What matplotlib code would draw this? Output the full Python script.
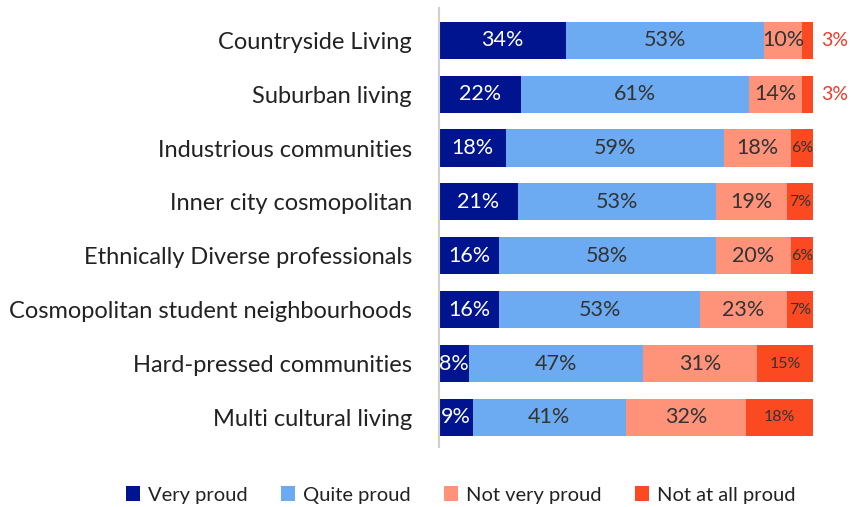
import matplotlib
matplotlib.use("Agg")
import matplotlib.pyplot as plt
from matplotlib.patches import Patch

categories = ["Countryside Living", "Suburban living", "Industrious communities",
              "Inner city cosmopolitan", "Ethnically Diverse professionals",
              "Cosmopolitan student neighbourhoods", "Hard-pressed communities",
              "Multi cultural living"]
very_proud = [34, 22, 18, 21, 16, 16, 8, 9]
quite_proud = [53, 61, 59, 53, 58, 53, 47, 41]
not_very_proud = [10, 14, 18, 19, 20, 23, 31, 32]
not_at_all_proud = [3, 3, 6, 7, 6, 7, 15, 18]
series_names = ["Very proud", "Quite proud", "Not very proud", "Not at all proud"]

colors = ["#00148f", "#6cabf2", "#fe937a", "#fb4a21"]
text_colors = ["white", "#333333", "#333333", "#333333"]

plt.rcParams['font.family'] = ['Lato', 'DejaVu Sans']

fig = plt.figure(figsize=(8.51, 5.07), dpi=100)
ax = fig.add_axes([439/851, 1 - 447/507, (813-439)/851, (447-8)/507])

series = [very_proud, quite_proud, not_very_proud, not_at_all_proud]
totals = [sum(s[i] for s in series) for i in range(len(categories))]
y = list(range(len(categories)))
left = [0]*len(categories)
for si, vals in enumerate(series):
    widths = [v * 100 / t for v, t in zip(vals, totals)]
    ax.barh(y, widths, left=left, height=0.69, color=colors[si], edgecolor='none')
    for i, v in enumerate(vals):
        w = widths[i]
        cx = left[i] + w/2
        if si == 3 and v <= 3:
            ax.text(left[i] + w + 2.2, i, f"{v}%", color="#f03a2a", fontsize=14,
                    ha='left', va='center', clip_on=False)
        else:
            fs = 15.5
            if si == 3:
                fs = 11.5
            ax.text(cx, i, f"{v}%", color=text_colors[si], fontsize=fs,
                    ha='center', va='center')
    left = [l + w for l, w in zip(left, widths)]

ax.set_xlim(0, 100)
ax.set_ylim(7.55, -0.6)
ax.set_yticks(y)
ax.set_yticklabels(categories, fontsize=17, color="#222222")
ax.tick_params(axis='y', length=0, pad=19.5)
ax.set_xticks([])
for s in ['top', 'right', 'bottom']:
    ax.spines[s].set_visible(False)
ax.spines['left'].set_color('#d0d0d0')
ax.spines['left'].set_linewidth(1.5)

handles = [Patch(facecolor=c, edgecolor='none') for c in colors]
fig.legend(handles, series_names, loc='center', bbox_to_anchor=(0.541, 1 - 495/507),
           ncol=4, frameon=False, fontsize=14.5, handlelength=0.7, handleheight=0.7,
           handletextpad=0.4, columnspacing=1.65, labelcolor="#222222")

fig.savefig("out.png", dpi=100)
